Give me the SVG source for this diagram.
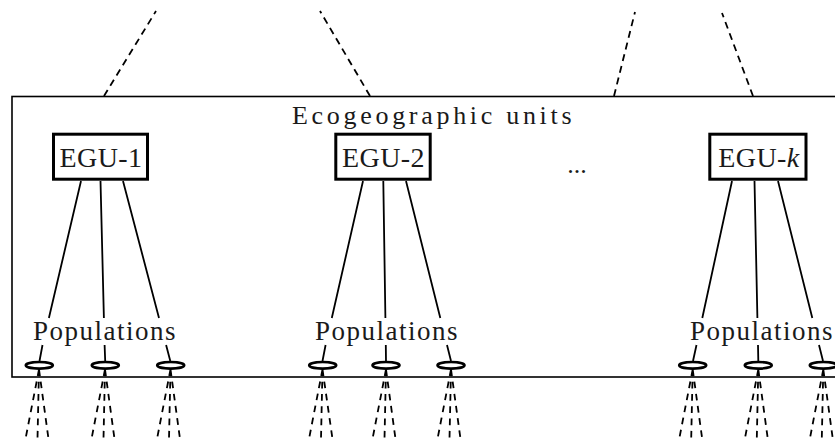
<svg xmlns="http://www.w3.org/2000/svg" width="835" height="439" viewBox="0 0 835 439">
<style>
.frame{fill:none;stroke:#000;stroke-width:1.6}
.box{fill:#fff;stroke:#000;stroke-width:3}
.ln{stroke:#000;stroke-width:1.8;fill:none}
.dash{stroke:#000;stroke-width:1.8;fill:none;stroke-dasharray:7 5}
.fan{stroke:#000;stroke-width:1.8;fill:none;stroke-dasharray:6.7 5.6}
.pop{fill:none;stroke:#000;stroke-width:2.6}
.t{font-family:"Liberation Serif","Times New Roman",serif;fill:#1a1a1a}
.title{font-size:26px;letter-spacing:3.7px}
.egu{font-size:28px;letter-spacing:0.4px}
.pl{font-size:27px;letter-spacing:1.5px}
</style>
<g id="frame">
<rect class="frame" x="12" y="96.5" width="840" height="280.5"/>
<text class="t title" x="292" y="123.5">Ecogeographic units</text>
<text class="t title" x="577" y="173" text-anchor="middle" style="letter-spacing:0">...</text>
</g>
<g id="connectors">
<line class="dash" x1="104" y1="96" x2="156" y2="11"/>
<line class="dash" x1="370" y1="96" x2="320" y2="11"/>
<line class="dash" x1="614" y1="96" x2="635" y2="12"/>
<line class="dash" x1="753" y1="96" x2="722" y2="13"/>
<path class="ln" d="M81,181 L48.9,318 M42.5,345 L39.5,361"/>
<path class="ln" d="M100.5,181 L103.9,318 M104.6,345 L105.2,361"/>
<path class="ln" d="M123,181 L159,318 M166.1,345 L170.3,361"/>
<path class="ln" d="M363,181 L331.8,318 M325.6,345 L322.5,361"/>
<path class="ln" d="M383.3,181 L385.4,318 M385.8,345 L386,361"/>
<path class="ln" d="M406,181 L440.3,318 M447,345 L451,361"/>
<path class="ln" d="M732,181 L702.3,318 M696.5,345 L693,361"/>
<path class="ln" d="M754.5,181 L757.4,318 M758,345 L758.3,361"/>
<path class="ln" d="M778,181 L812.3,318 M819,345 L823,361"/>
<g id="fans">
<path class="fan" d="M39,369.4 L25.5,439 M39,369.4 L37.5,439 M39,369.4 L48.5,439"/>
<path class="fan" d="M105,369.4 L91.5,439 M105,369.4 L103.5,439 M105,369.4 L114.5,439"/>
<path class="fan" d="M170.5,369.4 L157,439 M170.5,369.4 L169,439 M170.5,369.4 L180,439"/>
<path class="fan" d="M322.5,369.4 L309,439 M322.5,369.4 L321,439 M322.5,369.4 L332.5,439"/>
<path class="fan" d="M386,369.4 L372.5,439 M386,369.4 L384.5,439 M386,369.4 L395.5,439"/>
<path class="fan" d="M451,369.4 L437.5,439 M451,369.4 L449.5,439 M451,369.4 L460.5,439"/>
<path class="fan" d="M692.7,369.4 L679.2,439 M692.7,369.4 L691.2,439 M692.7,369.4 L702.2,439"/>
<path class="fan" d="M758.3,369.4 L744.8,439 M758.3,369.4 L756.8,439 M758.3,369.4 L767.8,439"/>
<path class="fan" d="M823.3,369.4 L809.8,439 M823.3,369.4 L821.8,439 M823.3,369.4 L832.8,439"/>
</g>
</g>
<g id="egu-1">
<rect class="box" x="53.5" y="134.2" width="94" height="45"/>
<text class="t egu" x="101" y="167" text-anchor="middle">EGU-1</text>
</g>
<g id="egu-2">
<rect class="box" x="335.8" y="134.2" width="94.4" height="45"/>
<text class="t egu" x="383.5" y="167" text-anchor="middle">EGU-2</text>
</g>
<g id="egu-k">
<rect class="box" x="709.8" y="134.2" width="96.2" height="45"/>
<text class="t egu" x="759" y="167" text-anchor="middle">EGU-<tspan font-style="italic">k</tspan></text>
</g>
<g id="populations-1">
<text class="t pl" x="33" y="339.5">Populations</text>
<ellipse class="pop" cx="39.3" cy="365.3" rx="13.5" ry="3.3"/>
<ellipse class="pop" cx="105.3" cy="365.3" rx="13.5" ry="3.3"/>
<ellipse class="pop" cx="170.7" cy="365.3" rx="13.5" ry="3.3"/>
</g>
<g id="populations-2">
<text class="t pl" x="315" y="339.5">Populations</text>
<ellipse class="pop" cx="322.7" cy="365.3" rx="13.5" ry="3.3"/>
<ellipse class="pop" cx="386" cy="365.3" rx="13.5" ry="3.3"/>
<ellipse class="pop" cx="451" cy="365.3" rx="13.5" ry="3.3"/>
</g>
<g id="populations-k">
<text class="t pl" x="690" y="339.5">Populations</text>
<ellipse class="pop" cx="692.7" cy="365.3" rx="13.5" ry="3.3"/>
<ellipse class="pop" cx="758.3" cy="365.3" rx="13.5" ry="3.3"/>
<ellipse class="pop" cx="823.3" cy="365.3" rx="13.5" ry="3.3"/>
</g>
</svg>
